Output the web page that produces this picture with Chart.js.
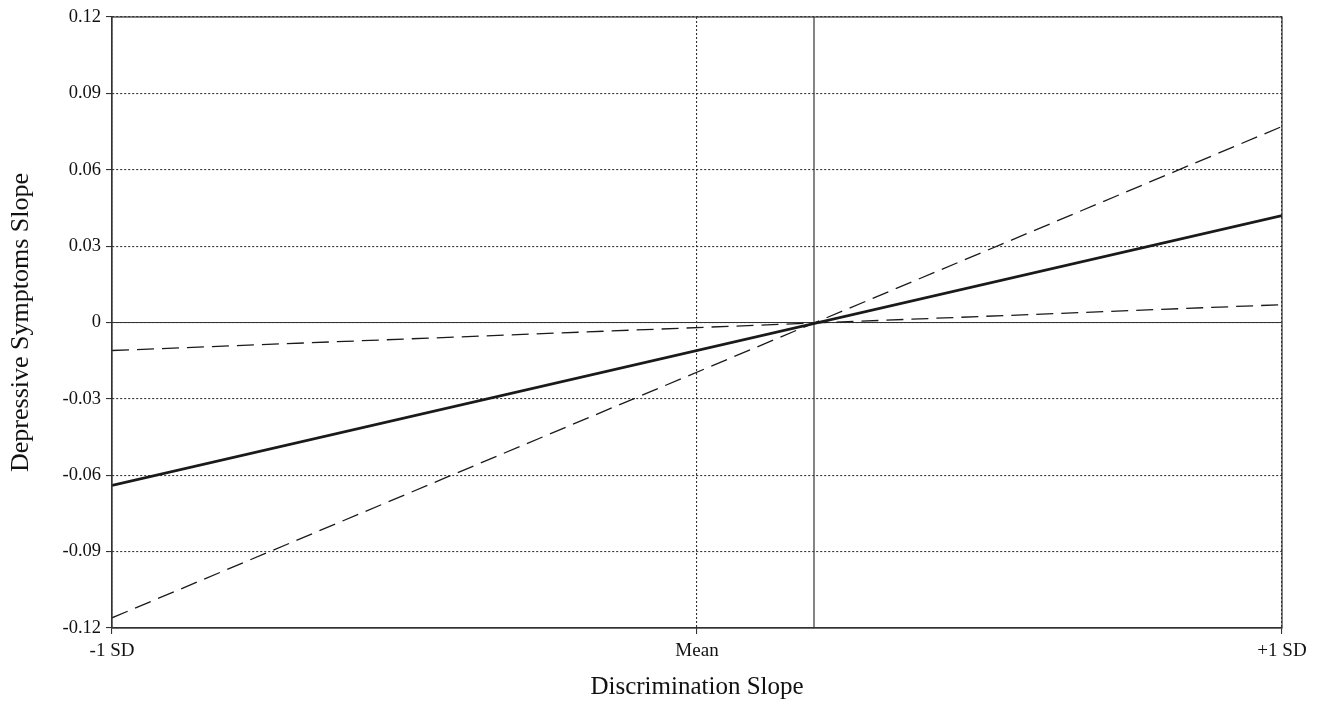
<!DOCTYPE html>
<html>
<head>
<meta charset="utf-8">
<script src="https://cdn.jsdelivr.net/npm/chart.js@4.4.1/dist/chart.umd.min.js"></script>
<style>
  html, body { margin: 0; padding: 0; background: #fff; }
  #wrap { width: 1324px; height: 705px; position: relative; }
</style>
</head>
<body>
<div id="wrap"><canvas id="myChart"></canvas></div>
<script>
// x positions: -1 SD, Mean, +1 SD of discrimination slope
var xValues = [-1, 1];
var xTickValues = [-1, 0, 1];
var xTickLabels = ['-1 SD', 'Mean', '+1 SD'];

// simple slopes
var slopeMean = [-0.064, 0.042];   // solid
var slopeHigh = [-0.116, 0.077];   // dashed, steep
var slopeLow = [-0.011, 0.007];    // dashed, flat

var yTickValues = [-0.12, -0.09, -0.06, -0.03, 0, 0.03, 0.06, 0.09, 0.12];
var yTickLabels = ['-0.12', '-0.09', '-0.06', '-0.03', '0', '0.03', '0.06', '0.09', '0.12'];

// point where the lines cross
var crossX = 0.2;

function toPoints(ys) {
    var pts = [];
    for (var i = 0; i < xValues.length; i++) {
        pts.push({x: xValues[i], y: ys[i]});
    }
    return pts;
}

var ink = '#1a1a1a';

var frame = {
    id: 'frame',
    afterDraw: function (chart) {
        var a = chart.chartArea;
        var ctx = chart.ctx;
        ctx.save();
        ctx.strokeStyle = '#333';
        ctx.lineWidth = 1.2;
        ctx.strokeRect(a.left, a.top, a.right - a.left, a.bottom - a.top);
        ctx.restore();
    }
};

var ctx = document.getElementById('myChart').getContext('2d');
var myChart = new Chart(ctx, {
    type: 'scatter',
    data: {
        datasets: [
            {
                data: toPoints(slopeMean),
                showLine: true,
                borderColor: ink,
                borderWidth: 2.6,
                pointRadius: 0
            },
            {
                data: toPoints(slopeHigh),
                showLine: true,
                borderColor: ink,
                borderWidth: 1.3,
                borderDash: [17, 8],
                pointRadius: 0
            },
            {
                data: toPoints(slopeLow),
                showLine: true,
                borderColor: ink,
                borderWidth: 1.3,
                borderDash: [17, 8],
                pointRadius: 0
            },
            {
                // zero reference line
                data: [{x: -1, y: 0}, {x: 1, y: 0}],
                showLine: true,
                borderColor: '#333',
                borderWidth: 1.2,
                pointRadius: 0
            },
            {
                // vertical line through the crossing point
                data: [{x: crossX, y: -0.12}, {x: crossX, y: 0.12}],
                showLine: true,
                borderColor: '#333',
                borderWidth: 1.2,
                pointRadius: 0
            }
        ]
    },
    options: {
        responsive: true,
        maintainAspectRatio: false,
        animation: false,
        layout: { padding: { top: 17, right: 42, left: 0, bottom: 0 } },
        plugins: {
            legend: { display: false },
            tooltip: { enabled: false }
        },
        scales: {
            x: {
                type: 'linear',
                min: -1,
                max: 1,
                afterBuildTicks: function (scale) {
                    scale.ticks = xTickValues.map(function (v) { return {value: v}; });
                },
                afterFit: function (scale) { scale.height = 77; },
                grid: {
                    color: '#333',
                    lineWidth: 1.1,
                    tickLength: 6,
                    tickColor: '#333'
                },
                border: { display: true, color: '#333', width: 1.2, dash: [2, 2] },
                ticks: {
                    autoSkip: false,
                    maxRotation: 0,
                    padding: 6,
                    color: '#111',
                    font: { family: 'Liberation Serif', size: 19 },
                    callback: function (v) {
                        return xTickLabels[xTickValues.indexOf(v)];
                    }
                },
                title: {
                    display: true,
                    text: 'Discrimination Slope',
                    color: '#111',
                    font: { family: 'Liberation Serif', size: 25 },
                    padding: { top: 0, bottom: 3 }
                }
            },
            y: {
                min: -0.12,
                max: 0.12,
                afterBuildTicks: function (scale) {
                    scale.ticks = yTickValues.map(function (v) { return {value: v}; });
                },
                afterFit: function (scale) { scale.width = 112; },
                grid: {
                    color: '#333',
                    lineWidth: 1.1,
                    tickLength: 6,
                    tickColor: '#333'
                },
                border: { display: true, color: '#333', width: 1.2, dash: [2, 2] },
                ticks: {
                    autoSkip: false,
                    padding: 5,
                    color: '#111',
                    font: { family: 'Liberation Serif', size: 18.5 },
                    callback: function (v) {
                        return yTickLabels[yTickValues.indexOf(v)];
                    }
                },
                title: {
                    display: true,
                    text: 'Depressive Symptoms Slope',
                    color: '#111',
                    font: { family: 'Liberation Serif', size: 26 },
                    padding: { top: 6, bottom: 0 }
                }
            }
        }
    },
    plugins: [frame]
});
</script>
</body>
</html>
